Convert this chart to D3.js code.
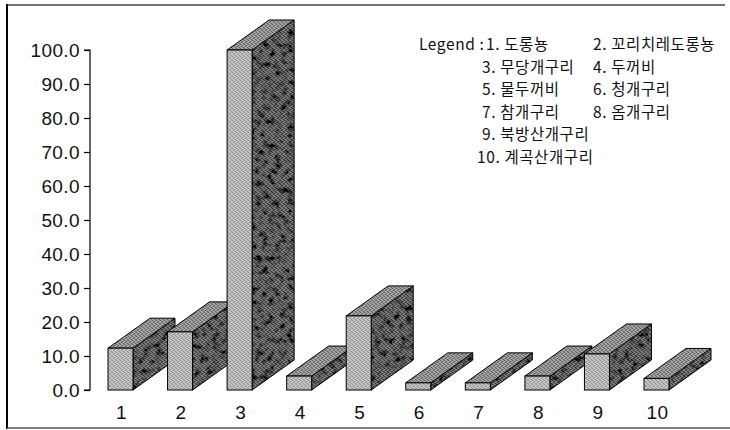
<!DOCTYPE html>
<html>
<head>
<meta charset="utf-8">
<script src="https://cdn.jsdelivr.net/npm/d3@7/dist/d3.min.js"></script>
<style>
  html, body { margin: 0; padding: 0; background: #fff; }
  svg { display: block; }
  .tick-label { font-family: "Liberation Sans", Arial, sans-serif; font-size: 19px; fill: #111; letter-spacing: 0.4px; }
  .legend { font-family: "Liberation Sans Narrow", "Noto Sans CJK KR", sans-serif; font-size: 15.5px; fill: #111; letter-spacing: 0.6px; }
</style>
</head>
<body>
<svg id="chart" width="730" height="430"></svg>
<script>
// Species index (x categories) and their values
const categories = ["1", "2", "3", "4", "5", "6", "7", "8", "9", "10"];
const values = [12.3, 17.1, 100.0, 4.1, 21.8, 2.1, 2.1, 4.1, 10.6, 3.4];
const yTicks = [0, 10, 20, 30, 40, 50, 60, 70, 80, 90, 100];
const legendTitle = "Legend :";
const legendItems = [
  "1. 도롱뇽", "2. 꼬리치레도롱뇽",
  "3. 무당개구리", "4. 두꺼비",
  "5. 물두꺼비", "6. 청개구리",
  "7. 참개구리", "8. 옴개구리",
  "9. 북방산개구리",
  "10. 계곡산개구리"
];

const svg = d3.select("#chart");

// Plot geometry
const yBase = 390, yTop = 50;
const frontW = 25;               // width of the front face of each block
const depthX = 42, depthY = -30; // oblique depth offset

const y = d3.scaleLinear().domain([0, 100]).range([yBase, yTop]);
const x = d3.scalePoint().domain(categories).range([120.5, 656.5]);

// ----- dithered fills (4x4 stipple cells) -----
const defs = svg.append("defs");
function stipple(id, base, light, dark) {
  const p = defs.append("pattern").attr("id", id)
    .attr("patternUnits", "userSpaceOnUse").attr("width", 4).attr("height", 4);
  p.append("rect").attr("width", 4).attr("height", 4).attr("fill", base);
  [[0, 0], [2, 1], [1, 2], [3, 3]].forEach(([a, b]) =>
    p.append("rect").attr("x", a).attr("y", b).attr("width", 1).attr("height", 1).attr("fill", dark));
  [[2, 0], [0, 1], [3, 2], [1, 3]].forEach(([a, b]) =>
    p.append("rect").attr("x", a).attr("y", b).attr("width", 1).attr("height", 1).attr("fill", light));
}
stipple("ditherFront", "#b6b6b6", "#d6d6d6", "#8c8c8c");
stipple("ditherTop", "#909090", "#b4b4b4", "#5e5e5e");
stipple("ditherSide", "#686868", "#8e8e8e", "#363636");

// mottled darkening for the shaded side faces
const f = defs.append("filter").attr("id", "mottle")
  .attr("x", 0).attr("y", 0).attr("width", 1).attr("height", 1);
f.append("feTurbulence").attr("type", "fractalNoise")
  .attr("baseFrequency", "0.16").attr("numOctaves", 3).attr("seed", 7).attr("result", "noise");
f.append("feColorMatrix").attr("in", "noise").attr("type", "matrix")
  .attr("values", "0 0 0 0 0  0 0 0 0 0  0 0 0 0 0  -3.2 0 0 0 1.8").attr("result", "blot");
f.append("feComposite").attr("in", "blot").attr("in2", "SourceGraphic").attr("operator", "in").attr("result", "blotClip");
const fm = f.append("feMerge");
fm.append("feMergeNode").attr("in", "SourceGraphic");
fm.append("feMergeNode").attr("in", "blotClip");

// ----- outer frame -----
svg.append("line").attr("x1", 7).attr("y1", 5).attr("x2", 725).attr("y2", 5)
  .attr("stroke", "#444").attr("stroke-width", 1.5);
svg.append("line").attr("x1", 7).attr("y1", 4).attr("x2", 7).attr("y2", 429)
  .attr("stroke", "#000").attr("stroke-width", 2);
svg.append("line").attr("x1", 7).attr("y1", 428).attr("x2", 730).attr("y2", 428)
  .attr("stroke", "#555").attr("stroke-width", 1.5);

// ----- y axis -----
const yAxis = d3.axisLeft(y).tickValues(yTicks).tickFormat(d3.format(".1f"))
  .tickSize(6).tickPadding(4);
const gy = svg.append("g").attr("transform", "translate(90,0)").call(yAxis);
gy.attr("font-family", null).attr("font-size", null);
gy.select(".domain").attr("stroke", "#000").attr("stroke-width", 1.2).attr("d", `M-6,${yTop}H0V${yBase}H-6`);
gy.selectAll(".tick line").attr("stroke", "#000").attr("stroke-width", 1.2);
gy.selectAll(".tick text").attr("class", "tick-label").attr("fill", "#111");

// ----- 3D blocks -----
const bars = svg.append("g");
const pts = p => p.map(q => q.join(",")).join(" ");
categories.forEach((c, i) => {
  const v = values[i];
  const x0 = x(c) - frontW / 2, x1 = x0 + frontW;
  const yt = y(v), yb = y(0);
  const g = bars.append("g");
  const top = [[x0, yt], [x1, yt], [x1 + depthX, yt + depthY], [x0 + depthX, yt + depthY]];
  const side = [[x1, yt], [x1 + depthX, yt + depthY], [x1 + depthX, yb + depthY], [x1, yb]];
  g.append("polygon").attr("points", pts(side)).attr("fill", "url(#ditherSide)").attr("filter", "url(#mottle)");
  g.append("polygon").attr("points", pts(side)).attr("fill", "none").attr("stroke", "#000").attr("stroke-width", 1);
  g.append("polygon").attr("points", pts(top)).attr("fill", "url(#ditherTop)")
    .attr("stroke", "#000").attr("stroke-width", 1).attr("stroke-linejoin", "round");
  g.append("rect").attr("x", x0).attr("y", yt).attr("width", frontW).attr("height", yb - yt)
    .attr("fill", "url(#ditherFront)").attr("stroke", "#000").attr("stroke-width", 1);
});

// ----- x labels -----
svg.append("g").selectAll("text").data(categories).join("text")
  .attr("class", "tick-label")
  .attr("x", d => x(d) + 1).attr("y", 419)
  .attr("text-anchor", "middle")
  .text(d => d);

// ----- legend -----
const lg = svg.append("g");
const rowStep = 22.5, row0 = 50;
lg.append("text").attr("class", "legend").attr("x", 419).attr("y", row0).text(legendTitle);
legendItems.forEach((t, i) => {
  let row, col;
  if (i < 8) { row = Math.floor(i / 2); col = i % 2; } else { row = i - 4; col = 0; }
  let lx = col === 0 ? 482 : 593;
  if (i === 0) lx = 486;
  if (i === 9) lx = 477;
  lg.append("text").attr("class", "legend").attr("x", lx).attr("y", row0 + row * rowStep).text(t);
});
</script>
</body>
</html>
